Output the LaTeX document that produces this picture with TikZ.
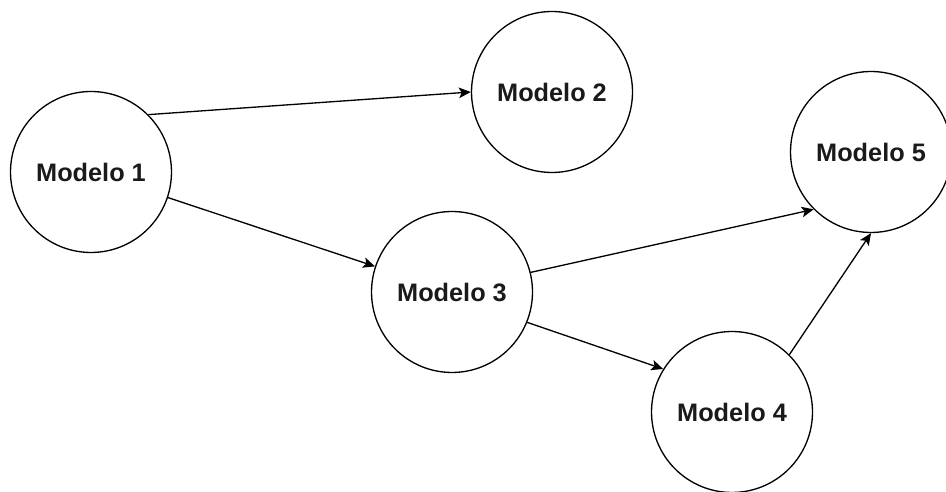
\documentclass[tikz,border=0pt]{standalone}
\usepackage{fontspec}
\setmainfont{Liberation Sans}
\usetikzlibrary{arrows.meta}
\definecolor{textgray}{HTML}{1A1A1A}
\tikzset{
	modelo/.style={circle, draw, line width=.75pt, minimum size=3.22cm, inner sep=0pt, text=textgray, font=\fontsize{14.4}{17}\selectfont\bfseries},
	link/.style={line width=.75pt, -{Stealth[length=6.8pt, width=6pt, inset=1.6pt]}}
}
\begin{document}
\begin{tikzpicture}[x=.02cm, y=-.02cm]
		\useasboundingbox (0, 0) rectangle (946, 492);
		\node[modelo] (m1) at (91, 172) {Modelo 1};
		\node[modelo] (m2) at (552, 92) {Modelo 2};
		\node[modelo] (m3) at (452, 292) {Modelo 3};
		\node[modelo] (m4) at (732, 412) {Modelo 4};
		\node[modelo] (m5) at (871, 152) {Modelo 5};
		\draw[link] (m1.north east) -- (m2.west);
		\draw[link] (m1) -- (m3);
		\draw[link] (m3.14) -- (m5.south west);
		\draw[link] (m3.-22) -- (m4.148);
		\draw[link] (m4.north east) -- (m5.south);
\end{tikzpicture}
\end{document}
